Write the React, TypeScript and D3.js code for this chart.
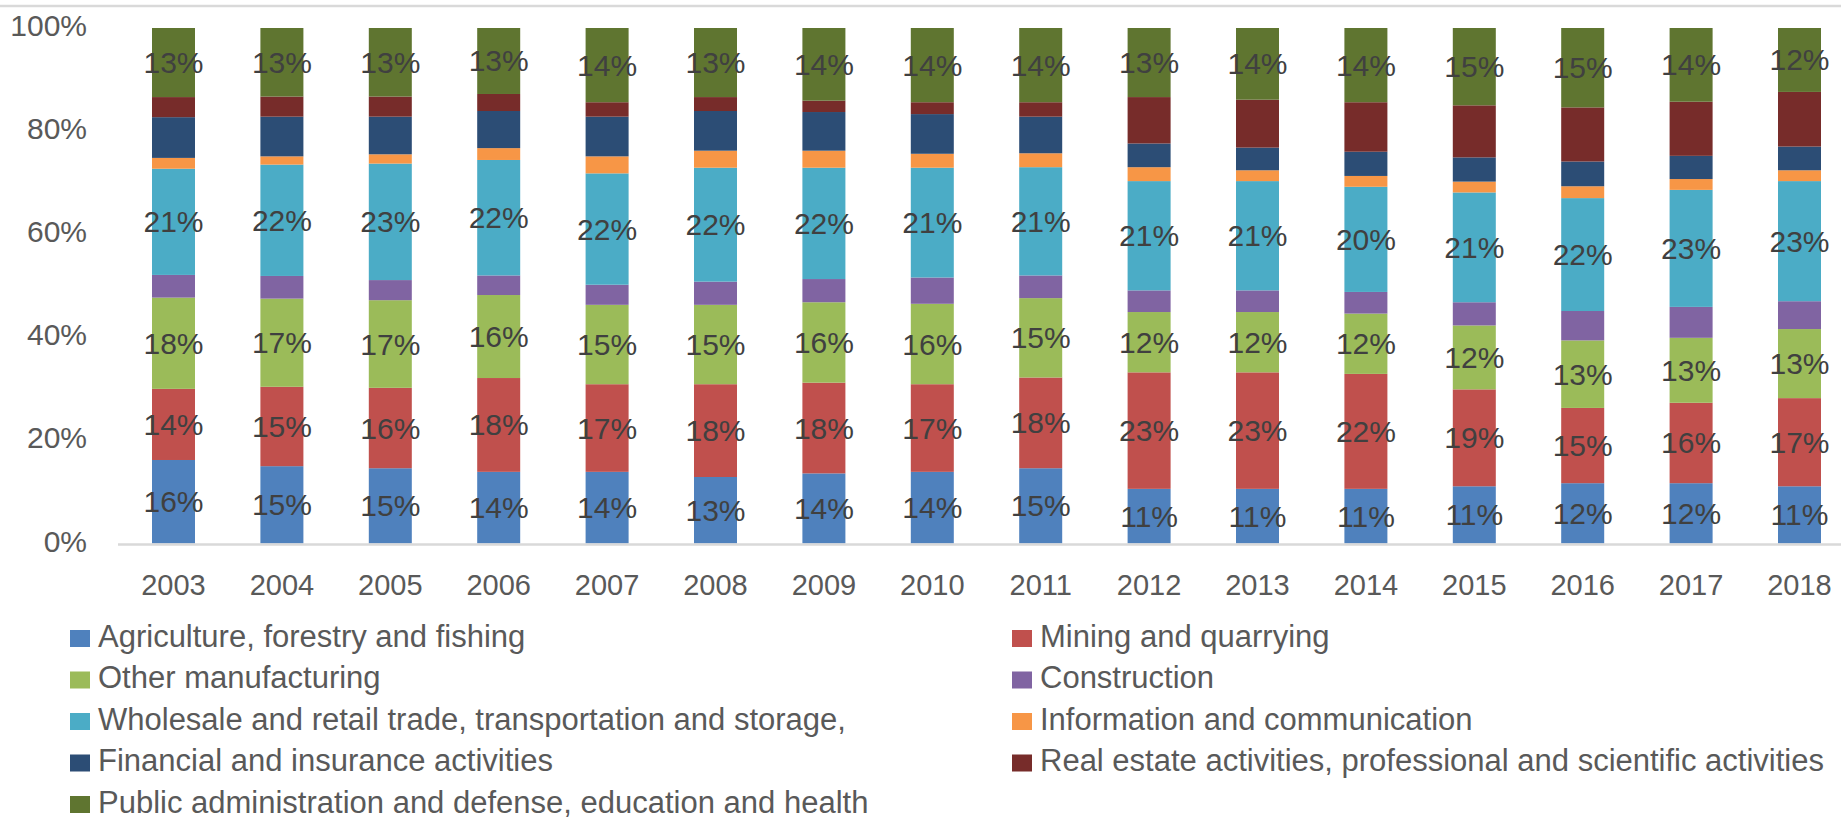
import React from 'react';
import * as d3 from 'd3';

const years = ['2003', '2004', '2005', '2006', '2007', '2008', '2009', '2010', '2011', '2012', '2013', '2014', '2015', '2016', '2017', '2018'];

const agriculture = [16.2, 15.0, 14.6, 13.9, 13.9, 12.9, 13.6, 13.9, 14.6, 10.6, 10.6, 10.6, 11.1, 11.7, 11.7, 11.1];
const mining = [13.8, 15.4, 15.6, 18.2, 17.0, 18.0, 17.6, 17.0, 17.6, 22.6, 22.6, 22.3, 18.8, 14.6, 15.6, 17.1];
const otherManufacturing = [17.7, 17.1, 17.0, 16.1, 15.4, 15.4, 15.6, 15.6, 15.4, 11.7, 11.7, 11.7, 12.4, 13.1, 12.6, 13.4];
const construction = [4.4, 4.4, 3.9, 3.8, 3.9, 4.5, 4.5, 5.1, 4.4, 4.2, 4.2, 4.2, 4.5, 5.7, 6.0, 5.4];
const wholesale = [20.6, 21.6, 22.6, 22.4, 21.6, 22.1, 21.6, 21.3, 21.0, 21.2, 21.2, 20.4, 21.3, 21.9, 22.7, 23.3];
const information = [2.1, 1.6, 1.8, 2.3, 3.3, 3.3, 3.3, 2.7, 2.7, 2.7, 2.1, 2.1, 2.1, 2.3, 2.1, 2.1];
const financial = [7.9, 7.7, 7.3, 7.2, 7.7, 7.7, 7.5, 7.7, 7.1, 4.6, 4.4, 4.7, 4.7, 4.8, 4.5, 4.6];
const realEstate = [3.9, 3.9, 3.9, 3.3, 2.8, 2.7, 2.2, 2.3, 2.8, 9.0, 9.3, 9.6, 10.1, 10.5, 10.5, 10.6];
const publicAdmin = [13.4, 13.3, 13.3, 12.8, 14.4, 13.4, 14.1, 14.4, 14.4, 13.4, 13.9, 14.4, 15.0, 15.4, 14.3, 12.4];

const seriesNames = [
  'Agriculture, forestry and fishing',
  'Mining and quarrying',
  'Other manufacturing',
  'Construction',
  'Wholesale and retail trade, transportation and storage,',
  'Information and communication',
  'Financial and insurance activities',
  'Real estate activities, professional and scientific activities',
  'Public administration and defense, education and health',
];
const seriesValues = [agriculture, mining, otherManufacturing, construction, wholesale, information, financial, realEstate, publicAdmin];
const seriesColors = ['#4F81BD', '#C0504D', '#9BBB59', '#8064A2', '#4BACC6', '#F79646', '#2C4D75', '#772C2A', '#5F7530'];
const labeledSeries = [true, true, true, false, true, false, false, false, true];
const yTicks = [0, 0.2, 0.4, 0.6, 0.8, 1];

const W = 1841;
const H = 819;
const FONT = "'Liberation Sans', Arial, sans-serif";

export default function App() {
  const keys = seriesNames.map((_, i) => 's' + i);
  const rows = years.map((yr, j) => {
    const r: any = { year: yr };
    keys.forEach((k, i) => { r[k] = seriesValues[i][j]; });
    return r;
  });
  const stacked = d3.stack<any>().keys(keys).offset(d3.stackOffsetExpand)(rows);

  const x = d3.scaleBand<string>()
    .domain(years)
    .range([119.3, 119.3 + 16 * 108.4])
    .paddingInner(0.6033)
    .paddingOuter(0.30165);
  const y = d3.scaleLinear().domain([0, 1]).range([543.5, 28]);

  const legendX = [98, 1040];
  const legendY0 = 638.5;
  const legendDy = 41.5;

  return (
    <svg width={W} height={H} style={{ position: 'absolute', left: 0, top: 0, background: '#fff' }} fontFamily={FONT}>
      <rect x={0} y={0} width={W} height={H} fill="#fff" />
      <line x1={0} x2={W} y1={6} y2={6} stroke="#d9d9d9" strokeWidth={2.5} />
      {yTicks.map((t) => (
        <text key={t} x={87} y={y(t) + 8} textAnchor="end" fontSize={30} fill="#595959">
          {d3.format('.0%')(t)}
        </text>
      ))}
      {stacked.map((s, i) => (
        <g key={s.key} fill={seriesColors[i]}>
          {s.map((d, j) => (
            <rect key={j} x={x(years[j])} width={x.bandwidth()} y={y(d[1])} height={y(d[0]) - y(d[1])} />
          ))}
        </g>
      ))}
      <line x1={118} x2={W} y1={544.5} y2={544.5} stroke="#d9d9d9" strokeWidth={2.5} />
      {stacked.map((s, i) =>
        labeledSeries[i]
          ? s.map((d, j) => (
              <text
                key={s.key + '-' + j}
                x={(x(years[j]) as number) + x.bandwidth() / 2}
                y={y((d[0] + d[1]) / 2) + 10.5}
                textAnchor="middle"
                fontSize={30}
                fill="#404040"
              >
                {Math.round(seriesValues[i][j]) + '%'}
              </text>
            ))
          : null
      )}
      {years.map((yr) => (
        <text key={yr} x={(x(yr) as number) + x.bandwidth() / 2} y={595} textAnchor="middle" fontSize={29} fill="#595959">
          {yr}
        </text>
      ))}
      {seriesNames.map((name, i) => {
        const col = i % 2;
        const row = Math.floor(i / 2);
        const cy = legendY0 + row * legendDy;
        const tx = legendX[col];
        return (
          <g key={name}>
            <rect x={tx - 28} y={cy - 8.5} width={20} height={17} fill={seriesColors[i]} />
            <text x={tx} y={cy + 8} fontSize={31} fill="#595959">{name}</text>
          </g>
        );
      })}
    </svg>
  );
}
